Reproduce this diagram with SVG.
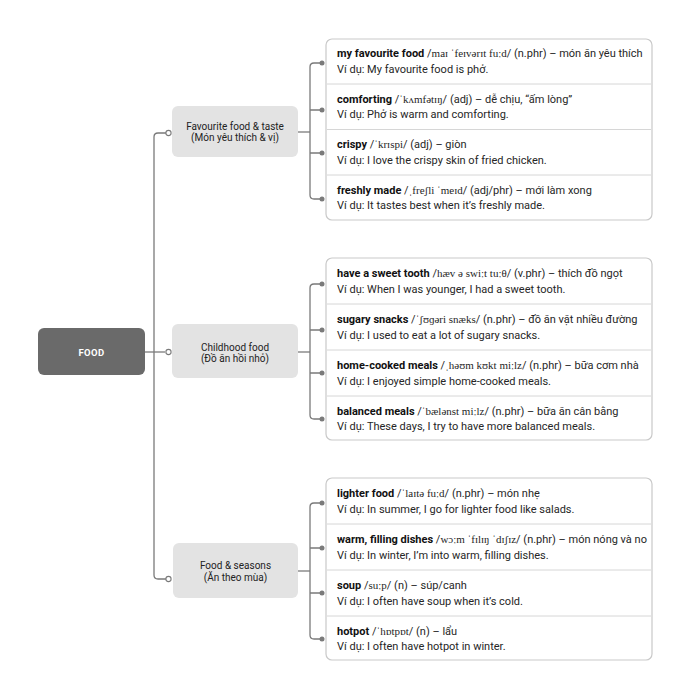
<svg xmlns="http://www.w3.org/2000/svg" width="691" height="700" viewBox="0 0 691 700">
<style>
.bg{fill:#ffffff}
.root{fill:#6a6a6a}
.roott{fill:#ffffff;font-family:Roboto,"Liberation Sans",sans-serif;font-size:9.5px;font-weight:bold;letter-spacing:0.4px;text-anchor:middle}
.cat{fill:#e3e3e3}
.catt{fill:#222;font-family:Roboto,"Liberation Sans",sans-serif;font-size:10px;text-anchor:middle}
.card{fill:#ffffff;stroke:#c9c9c9;stroke-width:1.2}
.div{stroke:#d6d6d6;stroke-width:1}
.t{fill:#262626;font-family:Roboto,"Liberation Sans",sans-serif;font-size:11px}
.b{font-weight:bold;fill:#111}
.ipa{font-family:"Liberation Serif","DejaVu Serif",serif;font-size:11px}
.ln{fill:none;stroke:#7a7a7a;stroke-width:1.3}
.dot{fill:#7a7a7a}
.oc{fill:#ffffff;stroke:#7a7a7a;stroke-width:1.1}
</style>
<rect class="bg" x="0" y="0" width="691" height="700"/>
<g id="connectors">
<path class="ln" d="M145 352 H165"/>
<path class="ln" d="M166 133 H158 Q154 133 154 137 V575 Q154 579 158 579 H166"/>
<path class="ln" d="M298 132 H310"/>
<path class="ln" d="M320 63 H314 Q310 63 310 67 V195 Q310 199 314 199 H320"/>
<path class="ln" d="M310 110 H320 M310 153 H320"/>
<path class="ln" d="M298 352 H310"/>
<path class="ln" d="M320 284 H314 Q310 284 310 288 V415 Q310 419 314 419 H320"/>
<path class="ln" d="M310 330 H320 M310 373 H320"/>
<path class="ln" d="M298 571 H310"/>
<path class="ln" d="M320 503 H314 Q310 503 310 507 V635 Q310 639 314 639 H320"/>
<path class="ln" d="M310 548 H320 M310 593 H320"/>
<circle class="oc" cx="168.5" cy="133" r="2.6"/>
<circle class="oc" cx="168.5" cy="352" r="2.6"/>
<circle class="oc" cx="168.5" cy="579" r="2.6"/>
<circle class="dot" cx="322" cy="63" r="2.5"/>
<circle class="dot" cx="322" cy="110" r="2.5"/>
<circle class="dot" cx="322" cy="153" r="2.5"/>
<circle class="dot" cx="322" cy="199" r="2.5"/>
<circle class="dot" cx="322" cy="284" r="2.5"/>
<circle class="dot" cx="322" cy="330" r="2.5"/>
<circle class="dot" cx="322" cy="373" r="2.5"/>
<circle class="dot" cx="322" cy="419" r="2.5"/>
<circle class="dot" cx="322" cy="503" r="2.5"/>
<circle class="dot" cx="322" cy="548" r="2.5"/>
<circle class="dot" cx="322" cy="593" r="2.5"/>
<circle class="dot" cx="322" cy="639" r="2.5"/>
</g>
<g id="food">
<rect class="root" x="38" y="328" width="107" height="47" rx="6"/>
<text class="roott" x="91.5" y="355.5">FOOD</text>
</g>
<g id="cat-favourite">
<rect class="cat" x="172" y="106" width="126" height="51" rx="6"/>
<text class="catt" x="235" y="129.5">Favourite food &amp; taste</text>
<text class="catt" x="235" y="141">(Món yêu thích &amp; vị)</text>
</g>
<g id="cat-childhood">
<rect class="cat" x="172" y="324" width="126" height="54" rx="6"/>
<text class="catt" x="235" y="350.5">Childhood food</text>
<text class="catt" x="235" y="361.5">(Đồ ăn hồi nhỏ)</text>
</g>
<g id="cat-seasons">
<rect class="cat" x="173" y="543" width="125" height="55" rx="6"/>
<text class="catt" x="235.5" y="569">Food &amp; seasons</text>
<text class="catt" x="235.5" y="580.5">(Ăn theo mùa)</text>
</g>
<g id="card-favourite">
<rect class="card" x="326" y="39" width="326" height="181" rx="6"/>
<path class="div" d="M327 84 H651 M327 129.5 H651 M327 175 H651"/>
<text class="t" x="337" y="57"><tspan class="b">my favourite food</tspan> /<tspan class="ipa">maɪ ˈfeɪvərɪt fuːd</tspan>/ (n.phr) – món ăn yêu thích</text>
<text class="t" x="337" y="72.5">Ví dụ: My favourite food is phở.</text>
<text class="t" x="337" y="102.5"><tspan class="b">comforting</tspan> /<tspan class="ipa">ˈkʌmfətɪŋ</tspan>/ (adj) – dễ chịu, “ấm lòng”</text>
<text class="t" x="337" y="118">Ví dụ: Phở is warm and comforting.</text>
<text class="t" x="337" y="148"><tspan class="b">crispy</tspan> /<tspan class="ipa">ˈkrɪspi</tspan>/ (adj) – giòn</text>
<text class="t" x="337" y="163.5">Ví dụ: I love the crispy skin of fried chicken.</text>
<text class="t" x="337" y="193.5"><tspan class="b">freshly made</tspan> /<tspan class="ipa">ˌfreʃli ˈmeɪd</tspan>/ (adj/phr) – mới làm xong</text>
<text class="t" x="337" y="209">Ví dụ: It tastes best when it’s freshly made.</text>
</g>
<g id="card-childhood">
<rect class="card" x="326" y="258" width="326" height="182" rx="6"/>
<path class="div" d="M327 304 H651 M327 350 H651 M327 396 H651"/>
<text class="t" x="337" y="277"><tspan class="b">have a sweet tooth</tspan> /<tspan class="ipa">hæv ə swiːt tuːθ</tspan>/ (v.phr) – thích đồ ngọt</text>
<text class="t" x="337" y="292.5">Ví dụ: When I was younger, I had a sweet tooth.</text>
<text class="t" x="337" y="323"><tspan class="b">sugary snacks</tspan> /<tspan class="ipa">ˈʃʊɡəri snæks</tspan>/ (n.phr) – đồ ăn vặt nhiều đường</text>
<text class="t" x="337" y="338.5">Ví dụ: I used to eat a lot of sugary snacks.</text>
<text class="t" x="337" y="369"><tspan class="b">home-cooked meals</tspan> /<tspan class="ipa">ˌhəʊm kʊkt miːlz</tspan>/ (n.phr) – bữa cơm nhà</text>
<text class="t" x="337" y="384.5">Ví dụ: I enjoyed simple home-cooked meals.</text>
<text class="t" x="337" y="414.5"><tspan class="b">balanced meals</tspan> /<tspan class="ipa">ˈbælənst miːlz</tspan>/ (n.phr) – bữa ăn cân bằng</text>
<text class="t" x="337" y="430">Ví dụ: These days, I try to have more balanced meals.</text>
</g>
<g id="card-seasons">
<rect class="card" x="326" y="478" width="326" height="182" rx="6"/>
<path class="div" d="M327 524 H651 M327 570 H651 M327 616 H651"/>
<text class="t" x="337" y="497"><tspan class="b">lighter food</tspan> /<tspan class="ipa">ˈlaɪtə fuːd</tspan>/ (n.phr) – món nhẹ</text>
<text class="t" x="337" y="512.5">Ví dụ: In summer, I go for lighter food like salads.</text>
<text class="t" x="337" y="543"><tspan class="b">warm, filling dishes</tspan> /<tspan class="ipa">wɔːm ˈfɪlɪŋ ˈdɪʃɪz</tspan>/ (n.phr) – món nóng và no</text>
<text class="t" x="337" y="558.5">Ví dụ: In winter, I’m into warm, filling dishes.</text>
<text class="t" x="337" y="589"><tspan class="b">soup</tspan> /<tspan class="ipa">suːp</tspan>/ (n) – súp/canh</text>
<text class="t" x="337" y="604.5">Ví dụ: I often have soup when it’s cold.</text>
<text class="t" x="337" y="634.5"><tspan class="b">hotpot</tspan> /<tspan class="ipa">ˈhɒtpɒt</tspan>/ (n) – lẩu</text>
<text class="t" x="337" y="650">Ví dụ: I often have hotpot in winter.</text>
</g>
</svg>
